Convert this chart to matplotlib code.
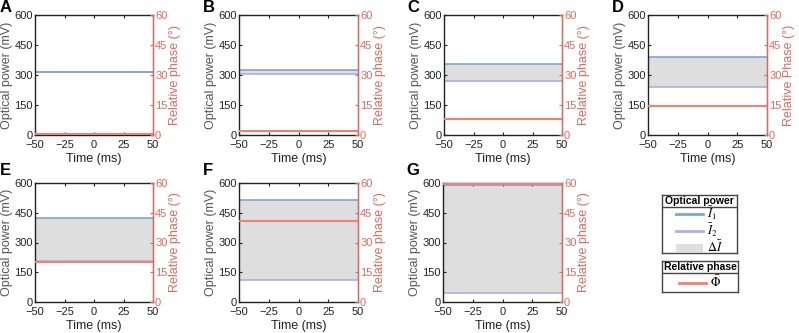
import numpy as np
import matplotlib.pyplot as plt
from matplotlib.lines import Line2D
from matplotlib.patches import Patch

panels = ['A', 'B', 'C', 'D', 'E', 'F', 'G']
i1 = [316, 323, 355, 388, 425, 515, 588]     # mV
i2 = [313, 303, 268, 238, 205, 112, 45]      # mV
phase = [0.3, 2.2, 8.0, 14.3, 20.3, 40.8, 59.3]  # deg
time = [-50, 50]
xticks = [-50, -25, 0, 25, 50]
yticks = [0, 150, 300, 450, 600]
y2ticks = [0, 15, 30, 45, 60]
phase_labels = ['Relative phase (°)'] * 3 + ['Relative Phase (°)'] + ['Relative phase (°)'] * 3

c_i1 = '#7aa6d6'
c_i2 = '#b3abe3'
c_ph = '#f47f72'
c_ax2 = '#dd6a5c'
c_fill = '#dedede'
c_txt = '#555555'

plt.rcParams['font.family'] = ['Liberation Sans', 'DejaVu Sans']
plt.rcParams['font.size'] = 9
plt.rcParams['mathtext.fontset'] = 'stix'

W, H = 799, 333
fig = plt.figure(figsize=(W / 100, H / 100), dpi=100)

# axes boxes in pixels
lefts = [35, 239, 444, 648, 35, 239, 443]
rights = [153, 358, 562, 767, 153, 358, 562]
tops = [15, 15, 15, 15, 183, 183, 183]
bots = [135, 135, 135, 135, 302, 302, 302]
lab_x = [0, 203, 407, 612, 0, 203, 406]
lab_y = [0, 0, 0, 0, 163, 163, 163]

for k, name in enumerate(panels):
    l, r, t, b = lefts[k], rights[k], tops[k], bots[k]
    ax = fig.add_axes([l / W, 1 - b / H, (r - l) / W, (b - t) / H])
    ax.fill_between(time, [i2[k]] * 2, [i1[k]] * 2, color=c_fill, lw=0)
    ax.plot(time, [i2[k]] * 2, color=c_i2, lw=1.2)
    ax.plot(time, [i1[k]] * 2, color=c_i1, lw=1.2)
    ax.set_xlim(-50, 50)
    ax.set_ylim(0, 600)
    ax.set_xticks(xticks)
    ax.set_xticklabels(['\u221250', '\u221225', '0', '25', '50'])
    ax.set_yticks(yticks)
    ax.tick_params(direction='in', length=2.5, width=0.8, colors='#222222',
                   labelcolor='#222222', labelsize=8, top=True, pad=1.5)
    ax.tick_params(axis='x', pad=3.5)
    ax.set_xlabel('Time (ms)', color='#222222', labelpad=2)
    ax.set_ylabel('Optical power (mV)', color=c_txt, labelpad=1)
    for s in ['left', 'top', 'bottom']:
        ax.spines[s].set_color('#222222')
        ax.spines[s].set_linewidth(1.0)

    ax2 = ax.twinx()
    ax2.plot(time, [phase[k]] * 2, color=c_ph, lw=1.5)
    ax2.set_ylim(0, 60)
    ax2.set_yticks(y2ticks)
    ax2.tick_params(direction='in', length=2.5, width=0.8, colors=c_ax2,
                    labelcolor=c_ax2, labelsize=8, pad=1.5)
    ax2.set_ylabel(phase_labels[k], color=c_ax2, labelpad=1)
    ax2.spines['right'].set_color(c_ax2)
    ax2.spines['right'].set_linewidth(1.0)
    ax2.spines['left'].set_visible(False)
    ax2.spines['top'].set_visible(False)
    ax2.spines['bottom'].set_visible(False)

    fig.text(lab_x[k] / W, 1 - lab_y[k] / H, name, fontsize=12,
             fontweight='bold', va='top', ha='left')


def legend_box(l, r, t, b, sep, title, handles, labels):
    lax = fig.add_axes([l / W, 1 - b / H, (r - l) / W, (b - t) / H])
    lax.set_xticks([])
    lax.set_yticks([])
    lax.set_xlim(0, 1)
    lax.set_ylim(0, 1)
    for s in lax.spines.values():
        s.set_color('#444444')
        s.set_linewidth(1.0)
    frac = 1 - (sep - t) / (b - t)
    lax.axhline(frac, color='#444444', lw=1.0)
    lax.text(0.5, (1 + frac) / 2, title, ha='center', va='center',
             fontweight='bold', fontsize=7.5)
    lax.legend(handles, labels, loc='center', bbox_to_anchor=(0.5, frac / 2),
               frameon=False, fontsize=9, handlelength=2.2, handletextpad=0.3,
               labelspacing=0.05, borderpad=0, borderaxespad=0)


legend_box(662, 737, 195, 253, 207, 'Optical power',
           [Line2D([], [], color=c_i1, lw=2), Line2D([], [], color=c_i2, lw=2),
            Patch(facecolor=c_fill, edgecolor='none')],
           [r'$\bar{I}_1$', r'$\bar{I}_2$', r'$\Delta\bar{I}$'])
legend_box(662, 738, 261, 292, 273, 'Relative phase',
           [Line2D([], [], color=c_ph, lw=2)], [r'$\bar{\Phi}$'])

fig.savefig('out.png', dpi=100)
